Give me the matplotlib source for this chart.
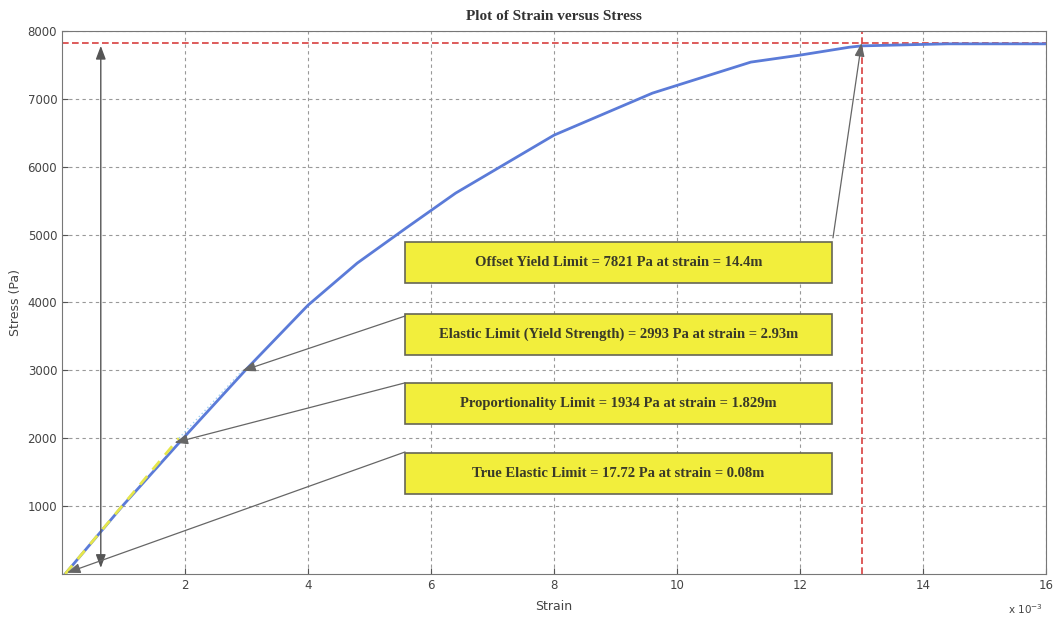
import matplotlib
matplotlib.use('Agg')
import matplotlib.pyplot as plt
from matplotlib.patches import Rectangle

# strain in units of 1e-3, stress in Pa
strain = [0.05, 1.0, 2.0, 3.0, 4.0, 4.8, 5.6, 6.4, 8.0, 9.6, 11.2, 12.0, 12.8, 13.0, 14.4, 16.0]
stress = [0, 1020, 2030, 3020, 3960, 4580, 5100, 5611, 6465, 7084, 7541, 7644, 7760, 7780, 7810, 7810]

# elastic (linear) segment
lin_strain = [0.05, 1.9]
lin_stress = [0, 2000]

offset_strain = 13.0
offset_stress = 7821

xticks = [2, 4, 6, 8, 10, 12, 14, 16]
yticks = [1000, 2000, 3000, 4000, 5000, 6000, 7000, 8000]

labels = [
    'Offset Yield Limit = 7821 Pa at strain = 14.4m',
    'Elastic Limit (Yield Strength) = 2993 Pa at strain = 2.93m',
    'Proportionality Limit = 1934 Pa at strain = 1.829m',
    'True Elastic Limit = 17.72 Pa at strain = 0.08m',
]
# where each arrow points (strain, stress)
targets = [(13.0, 7821), (2.93, 2993), (1.829, 1934), (0.08, 17.72)]

fig = plt.figure(figsize=(10.57, 6.19), dpi=100)
ax = fig.add_axes([0.0587, 0.0727, 0.9309, 0.8773])

ax.plot(strain, stress, color='#5b7bd8', lw=2, zorder=3)
ax.plot(lin_strain, lin_stress, color='#e6e64a', lw=2, ls=(0, (4, 3)), zorder=4)
ax.plot([1.9, 2.93], [2000, 2993], color='#9fd0f0', lw=1, ls=(0, (1, 2)), zorder=4)

red = '#d84040'
ax.axhline(offset_stress, color=red, lw=1.2, ls=(0, (4, 2)), zorder=2)
ax.axvline(offset_strain, color=red, lw=1.2, ls=(0, (4, 2)), zorder=2)

ax.set_xlim(0, 16)
ax.set_ylim(0, 8000)
ax.set_xticks(xticks)
ax.set_yticks(yticks)
ax.tick_params(direction='in', length=4, colors='#555555', labelsize=8.5)
for lab in ax.get_xticklabels() + ax.get_yticklabels():
    lab.set_color('#444444')
ax.grid(True, color='#999999', ls=(0, (3, 3)), lw=0.8)
for sp in ax.spines.values():
    sp.set_color('#777777')
    sp.set_linewidth(0.8)

ax.set_title('Plot of Strain versus Stress', family='Liberation Serif',
             fontweight='bold', fontsize=11, color='#333333', pad=8)
ax.set_xlabel('Strain', fontsize=9, color='#444444', labelpad=6)
ax.set_ylabel('Stress (Pa)', fontsize=9, color='#444444', labelpad=4)
ax.text(0.997, -0.052, r'x 10$^{-3}$', transform=ax.transAxes, ha='right', va='top',
        fontsize=7.5, color='#444444')

# double-headed range arrow
ax.annotate('', xy=(0.63, 7780), xytext=(0.63, 90),
            arrowprops=dict(arrowstyle='<|-|>,head_length=0.8,head_width=0.3',
                            color='#555555', lw=1, shrinkA=0, shrinkB=0))

# text boxes (axes fraction)
box_x, box_w, box_h = 0.3486, 0.434, 0.0755
box_y = [0.536, 0.4033, 0.2762, 0.1473]
starts = [(0.7835, 0.619), (0.3486, 0.475), (0.3486, 0.352), (0.3486, 0.2247)]

for lab, y, tgt, st in zip(labels, box_y, targets, starts):
    ax.add_patch(Rectangle((box_x, y), box_w, box_h, transform=ax.transAxes,
                           facecolor='#f2ee3c', edgecolor='#666655', lw=1.2, zorder=5))
    ax.text(box_x + box_w / 2, y + box_h / 2, lab, transform=ax.transAxes,
            ha='center', va='center', family='Liberation Serif', fontsize=10.5,
            fontweight='bold', color='#3a3a28', zorder=6)
    ax.annotate('', xy=tgt, xytext=st, textcoords='axes fraction',
                arrowprops=dict(arrowstyle='-|>,head_length=0.8,head_width=0.3',
                                color='#666666', lw=0.9, shrinkA=0, shrinkB=0),
                zorder=6)

fig.savefig('out.png', dpi=100)
